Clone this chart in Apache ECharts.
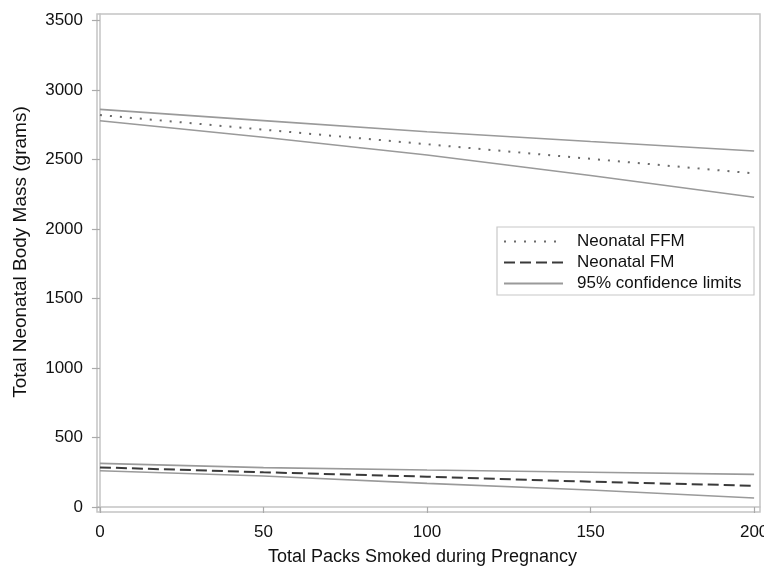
<!DOCTYPE html>
<html>
<head>
<meta charset="utf-8">
<script src="https://cdn.jsdelivr.net/npm/echarts@6/dist/echarts.min.js"></script>
<style>html,body{margin:0;padding:0;background:#fff}#c{width:774px;height:569px}</style>
</head>
<body>
<div id="c"></div>
<script>
var xTicks = [0, 50, 100, 150, 200];
var yTicks = [0, 500, 1000, 1500, 2000, 2500, 3000, 3500];
var packs = [0, 50, 100, 150, 200];
var ffm = [2820, 2715, 2610, 2505, 2400];
var ffmUpper = [2861, 2780, 2700, 2630, 2561];
var ffmLower = [2779, 2660, 2532, 2385, 2228];
var fm = [285, 250, 218, 182, 153];
var fmUpper = [314, 283, 266, 250, 235];
var fmLower = [261, 223, 170, 122, 65];

function pts(ys) { return packs.map(function (x, i) { return [x, ys[i]]; }); }

var FONT = 'Liberation Sans, Arial, sans-serif';
var TXT = '#111';
var ciStyle = { color: '#9a9a9a', width: 1.6, type: 'solid' };
var ciName = '95% confidence limits';

var chart = echarts.init(document.getElementById('c'));
chart.setOption({
  animation: false,
  backgroundColor: '#fff',
  grid: { left: 97, right: 14, top: 14, bottom: 57, show: true, borderColor: '#c4c4c4', borderWidth: 1.5,
    containLabel: false, outerBoundsMode: 'none' },
  xAxis: {
    type: 'value', min: -0.9, max: 201.8,
    name: 'Total Packs Smoked during Pregnancy', nameLocation: 'middle', nameGap: 36,
    nameTextStyle: { fontFamily: FONT, fontSize: 18, color: TXT, padding: [0, 12, 0, 0] },
    axisLine: { show: true, lineStyle: { color: '#c4c4c4', width: 1.5 } },
    axisTick: { show: true, customValues: xTicks, length: 6, lineStyle: { color: '#aaa', width: 1.2 } },
    axisLabel: { customValues: xTicks, margin: 12, fontFamily: FONT, fontSize: 17, color: TXT,
      formatter: function (v) { return String(v); } },
    splitLine: { show: false }
  },
  yAxis: {
    type: 'value', min: -36, max: 3547,
    axisLine: { show: true, lineStyle: { color: '#c4c4c4', width: 1.5 } },
    axisTick: { show: true, customValues: yTicks, length: 8, lineStyle: { color: '#aaa', width: 1.2 } },
    axisLabel: { customValues: yTicks, margin: 14, fontFamily: FONT, fontSize: 17, color: TXT,
      formatter: function (v) { return String(v); } },
    splitLine: { show: false }
  },
  legend: {
    orient: 'vertical', left: 497, top: 227, padding: [6, 6, 6, 6],
    itemWidth: 59, itemHeight: 14, itemGap: 4,
    itemStyle: { opacity: 0 },
    data: ['Neonatal FFM', 'Neonatal FM', ciName],
    textStyle: { fontFamily: FONT, fontSize: 17, color: TXT, padding: [0, 0, 0, 9] }
  },
  graphic: [
    { type: 'text', x: 21, y: 252, rotation: Math.PI / 2,
      style: { text: 'Total Neonatal Body Mass (grams)', font: '19px Liberation Sans, Arial, sans-serif',
        fill: TXT, textAlign: 'center', textVerticalAlign: 'middle' }, z: 100 },
    { type: 'rect', shape: { x: 497, y: 227, width: 257, height: 68 }, style: { fill: 'none', stroke: '#c8c8c8', lineWidth: 1.2 }, z: 100 },
    { type: 'rect', shape: { x: 764, y: 518, width: 10, height: 30 }, style: { fill: '#fff' }, z: 100 }
  ],
  series: [
    { name: 'Neonatal FFM', type: 'line', data: pts(ffm), symbol: 'none', z: 5,
      lineStyle: { color: '#6a6a6a', width: 2, type: [2, 8] }, itemStyle: { color: '#6a6a6a' } },
    { name: 'Neonatal FM', type: 'line', data: pts(fm), symbol: 'none', z: 5,
      lineStyle: { color: '#3a3a3a', width: 2, type: [11, 5] }, itemStyle: { color: '#3a3a3a' } },
    { name: ciName, type: 'line', data: pts(ffmUpper), symbol: 'none', lineStyle: ciStyle, itemStyle: { color: '#9a9a9a' } },
    { name: ciName, type: 'line', data: pts(ffmLower), symbol: 'none', lineStyle: ciStyle, itemStyle: { color: '#9a9a9a' } },
    { name: ciName, type: 'line', data: pts(fmUpper), symbol: 'none', lineStyle: ciStyle, itemStyle: { color: '#9a9a9a' } },
    { name: ciName, type: 'line', data: pts(fmLower), symbol: 'none', lineStyle: ciStyle, itemStyle: { color: '#9a9a9a' } }
  ]
});
</script>
</body>
</html>
